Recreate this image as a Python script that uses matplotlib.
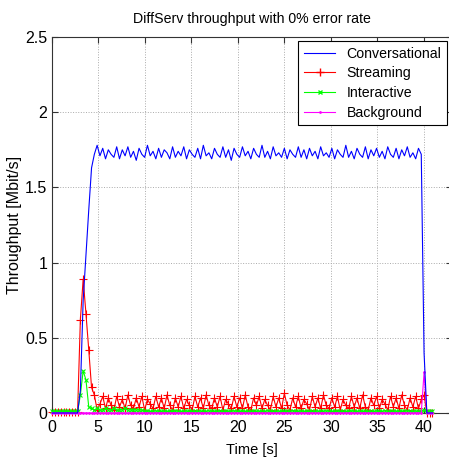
import matplotlib.pyplot as plt
from matplotlib.lines import Line2D
import numpy as np

plt.rcParams['font.family'] = ['Liberation Sans', 'DejaVu Sans']

# sample times, one every 0.3 s
t = np.round(0.1 + 0.3 * np.arange(137), 1)

conversational = (
    [0, 0, 0, 0, 0, 0, 0, 0, 0, 0,
     0.15, 0.75, 1.05, 1.35, 1.63, 1.72, 1.78]
    + [1.71, 1.76, 1.69, 1.75, 1.72, 1.70, 1.77, 1.69, 1.75, 1.71, 1.77, 1.70, 1.74, 1.68, 1.76, 1.72, 1.70, 1.78, 1.71, 1.74,
       1.69, 1.76, 1.70, 1.75, 1.73, 1.69, 1.77, 1.70, 1.74, 1.71, 1.77, 1.69, 1.75, 1.72, 1.70, 1.76, 1.69, 1.78, 1.71, 1.73,
       1.69, 1.76, 1.72, 1.70, 1.77, 1.70, 1.75, 1.68, 1.76, 1.72, 1.70, 1.77, 1.71, 1.74, 1.69, 1.76, 1.72, 1.70, 1.78, 1.70,
       1.74, 1.69, 1.77, 1.71, 1.73, 1.70, 1.76, 1.69, 1.75, 1.72, 1.70, 1.77, 1.70, 1.75, 1.69, 1.76, 1.71, 1.74, 1.69, 1.77,
       1.71, 1.73, 1.70, 1.76, 1.69, 1.75, 1.72, 1.70, 1.78, 1.70, 1.74, 1.69, 1.76, 1.72, 1.70, 1.77, 1.69, 1.75, 1.71, 1.76,
       1.70, 1.74, 1.69, 1.77, 1.72, 1.70, 1.76, 1.69, 1.75, 1.71, 1.77, 1.70, 1.73, 1.69, 1.76, 1.72]
    + [0.40, 0, 0, 0]
)

streaming = (
    [0.005, 0.005, 0.005, 0.005, 0.005, 0.005, 0.005, 0.005, 0.005, 0.005,
     0.62, 0.89, 0.66, 0.42, 0.17, 0.12, 0.02]
    + [0.06, 0.11, 0.03, 0.10, 0.05, 0.02, 0.11, 0.04, 0.09, 0.03, 0.12, 0.05, 0.03, 0.10, 0.04, 0.11, 0.02, 0.09, 0.06, 0.03,
       0.11, 0.04, 0.10, 0.03, 0.12, 0.05, 0.02, 0.10, 0.04, 0.11, 0.03, 0.09, 0.05, 0.02, 0.11, 0.04, 0.10, 0.03, 0.12, 0.05,
       0.03, 0.10, 0.04, 0.11, 0.02, 0.09, 0.06, 0.03, 0.11, 0.04, 0.10, 0.03, 0.12, 0.04, 0.02, 0.10, 0.05, 0.11, 0.03, 0.09,
       0.05, 0.02, 0.11, 0.04, 0.10, 0.03, 0.13, 0.05, 0.02, 0.10, 0.04, 0.11, 0.03, 0.09, 0.06, 0.02, 0.11, 0.04, 0.10, 0.03,
       0.12, 0.05, 0.03, 0.10, 0.04, 0.11, 0.02, 0.09, 0.05, 0.03, 0.11, 0.04, 0.10, 0.03, 0.12, 0.04, 0.02, 0.10, 0.05, 0.11,
       0.03, 0.09, 0.06, 0.02, 0.11, 0.04, 0.10, 0.03, 0.12, 0.05, 0.02, 0.10, 0.04, 0.11, 0.03, 0.09]
    + [0.12, 0.0, 0.0, 0.0]
)

interactive = (
    [0.01, 0.01, 0.01, 0.01, 0.01, 0.01, 0.01, 0.01, 0.01, 0.01,
     0.12, 0.28, 0.22, 0.04]
    + [0.03, 0.02, 0.03, 0.02, 0.02, 0.03, 0.02, 0.02, 0.03, 0.02,
       0.02, 0.02, 0.03, 0.02, 0.02, 0.02, 0.02, 0.02, 0.02]
    + [0.01, 0.012, 0.01, 0.01, 0.015, 0.01, 0.01, 0.012, 0.01, 0.01, 0.01, 0.015, 0.01, 0.01, 0.01, 0.012, 0.01, 0.01, 0.01, 0.01,
       0.012, 0.01, 0.01, 0.015, 0.01, 0.01, 0.01, 0.012, 0.01, 0.01, 0.01, 0.01, 0.015, 0.01, 0.01, 0.012, 0.01, 0.01, 0.01, 0.01,
       0.01, 0.012, 0.01, 0.01, 0.015, 0.01, 0.01, 0.01, 0.012, 0.01, 0.01, 0.01, 0.01, 0.015, 0.01, 0.01, 0.012, 0.01, 0.01, 0.01,
       0.01, 0.01, 0.012, 0.01, 0.01, 0.015, 0.01, 0.01, 0.01, 0.012, 0.01, 0.01, 0.01, 0.01, 0.015, 0.01, 0.01, 0.012, 0.01, 0.01,
       0.01, 0.01, 0.01, 0.012, 0.01, 0.01, 0.015, 0.01, 0.01, 0.01, 0.012, 0.01, 0.01, 0.01, 0.015, 0.01, 0.01, 0.012, 0.01, 0.01]
    + [0.02, 0.01, 0.01, 0.01]
)

background = (
    [0, 0, 0, 0, 0, 0, 0, 0, 0, 0, 0, 0, 0, 0, 0, 0, 0, 0, 0, 0,
     0, 0, 0, 0, 0, 0, 0, 0, 0, 0, 0, 0, 0, 0, 0, 0, 0, 0, 0, 0,
     0, 0, 0, 0, 0, 0, 0, 0, 0, 0, 0, 0, 0, 0, 0, 0, 0, 0, 0, 0,
     0, 0, 0, 0, 0, 0, 0, 0, 0, 0, 0, 0, 0, 0, 0, 0, 0, 0, 0, 0,
     0, 0, 0, 0, 0, 0, 0, 0, 0, 0, 0, 0, 0, 0, 0, 0, 0, 0, 0, 0,
     0, 0, 0, 0, 0, 0, 0, 0, 0, 0, 0, 0, 0, 0, 0, 0, 0, 0, 0, 0,
     0, 0, 0, 0, 0, 0, 0, 0, 0, 0, 0, 0, 0]
    + [0.27, 0, 0, 0]
)

fig = plt.figure(figsize=(4.49, 4.59), dpi=100)
ax = fig.add_axes([51.5 / 449, 46 / 459, (452 - 51.5) / 449, 376 / 459])

ax.plot(t, streaming, color='#ff0000', marker='+', ms=6, mew=0.8, lw=0.8, zorder=2, clip_on=False)
ax.plot(t, interactive, color='#00ff00', marker='x', ms=3, mew=0.8, lw=0.8, zorder=3, clip_on=False)
ax.plot(t, background, color='#ff00ff', marker='.', ms=2, lw=0.8, zorder=4, clip_on=False)
ax.plot(t, conversational, color='#0000ff', lw=0.8, zorder=5, clip_on=False)

ax.set_xlim(0, 43)
ax.set_ylim(0, 2.5)
ax.set_xticks([0, 5, 10, 15, 20, 25, 30, 35, 40])
ax.set_yticks([0, 0.5, 1, 1.5, 2, 2.5])
ax.set_yticklabels(['0', '0.5', '1', '1.5', '2', '2.5'])
ax.grid(True, linestyle=':', color='#aaaaaa', lw=0.7)
ax.tick_params(direction='in', length=4, labelsize=11.5, colors='#333333', labelcolor='black',
               top=True, right=True)
ax.tick_params(axis='x', pad=5)
ax.tick_params(axis='y', pad=3)
for s in ax.spines.values():
    s.set_color('#333333')
    s.set_linewidth(0.8)

ax.set_title('DiffServ throughput with 0% error rate', fontsize=10.2, pad=10)
ax.set_xlabel('Time [s]', fontsize=10.5, labelpad=6)
ax.set_ylabel('Throughput [Mbit/s]', fontsize=11.5, labelpad=2)

handles = [
    Line2D([], [], color='#0000ff', lw=0.8),
    Line2D([], [], color='#ff0000', marker='+', ms=6, lw=0.8),
    Line2D([], [], color='#00ff00', marker='x', ms=3, lw=0.8),
    Line2D([], [], color='#ff00ff', marker='.', ms=2, lw=0.8),
]
leg = ax.legend(handles, ['Conversational', 'Streaming', 'Interactive', 'Background'],
                loc='upper right', bbox_to_anchor=(447 / 449, 1 - 41 / 459), bbox_transform=fig.transFigure,
                fontsize=10.2, fancybox=False, framealpha=1, edgecolor='black',
                handlelength=2.2, labelspacing=0.4, borderaxespad=0)
leg.get_frame().set_linewidth(0.8)

fig.savefig('out.png', dpi=100)
